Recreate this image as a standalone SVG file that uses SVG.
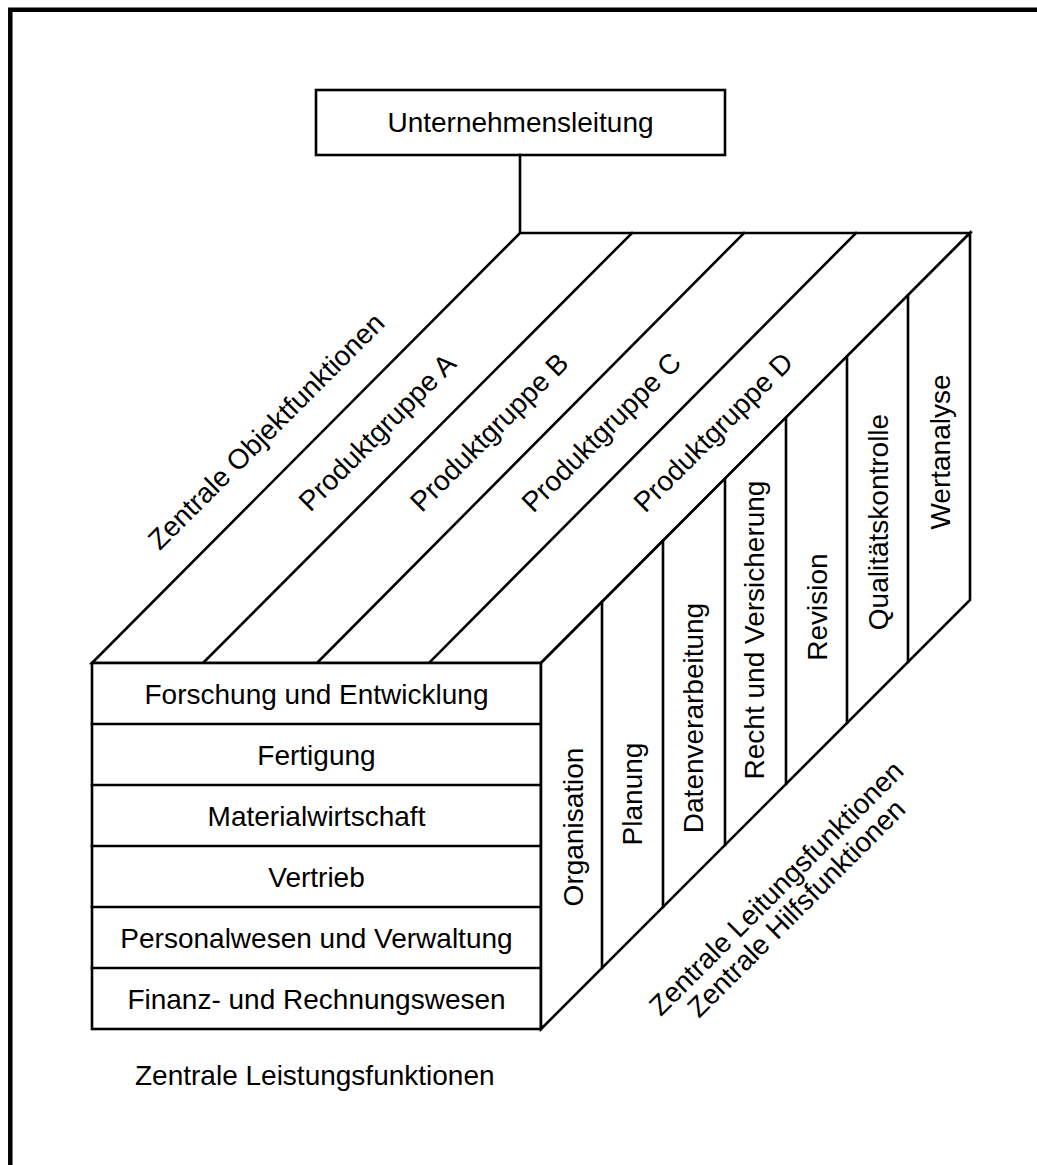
<svg xmlns="http://www.w3.org/2000/svg" width="1037" height="1165" viewBox="0 0 1037 1165">
  <style>
    .ln { fill: none; stroke: #000; stroke-width: 2.6; stroke-linejoin: miter; stroke-linecap: square; }
    .face { fill: #fff; stroke: #000; stroke-width: 2.6; stroke-linejoin: miter; }
    .lbl { font-family: "Liberation Sans", Arial, sans-serif; font-size: 28px; fill: #000; }
    .mid { text-anchor: middle; }
  </style>
  <rect width="1037" height="1165" fill="#fff"/>
  <!-- outer frame, open to the right and bottom -->
  <path d="M10.3 1165 V9.7 H1040" fill="none" stroke="#000" stroke-width="4.5"/>

  <!-- top node -->
  <g id="unternehmensleitung">
    <rect x="316" y="90" width="409" height="65" class="face" stroke-width="3"/>
    <text x="520.5" y="132" class="lbl mid">Unternehmensleitung</text>
  </g>

  <!-- connectors -->
  <g id="connectors">
    <path class="ln" d="M520 155 V233"/>
  </g>

  <!-- top face: central object functions / product groups -->
  <g id="objektfunktionen">
    <polygon class="face" points="92,663 520,233 970,233 541,663"/>
    <path class="ln" d="M632 233 L203 663 M744 233 L317 663 M856 233 L429 663"/>
    <text class="lbl mid" transform="translate(273,438) rotate(-45)">Zentrale Objektfunktionen</text>
    <text class="lbl mid" transform="translate(384,439) rotate(-45)">Produktgruppe A</text>
    <text class="lbl mid" transform="translate(496,439) rotate(-45)">Produktgruppe B</text>
    <text class="lbl mid" transform="translate(608,439) rotate(-45)">Produktgruppe C</text>
    <text class="lbl mid" transform="translate(720,439) rotate(-45)">Produktgruppe D</text>
  </g>

  <!-- front face: central performance functions -->
  <g id="leistungsfunktionen">
    <rect class="face" x="92" y="663" width="449" height="366"/>
    <path class="ln" d="M92 724 H541 M92 785 H541 M92 846 H541 M92 907 H541 M92 968 H541"/>
    <text class="lbl mid" x="316.5" y="704">Forschung und Entwicklung</text>
    <text class="lbl mid" x="316.5" y="765">Fertigung</text>
    <text class="lbl mid" x="316.5" y="826">Materialwirtschaft</text>
    <text class="lbl mid" x="316.5" y="887">Vertrieb</text>
    <text class="lbl mid" x="316.5" y="948">Personalwesen und Verwaltung</text>
    <text class="lbl mid" x="316.5" y="1009">Finanz- und Rechnungswesen</text>
    <text class="lbl" x="135" y="1085">Zentrale Leistungsfunktionen</text>
  </g>

  <!-- right face: central management and support functions -->
  <g id="leitungs-hilfsfunktionen">
    <polygon class="face" points="541,663 970,233 970,600 541,1029"/>
    <path class="ln" d="M602 602 V968 M663 541 V907 M725 479 V845 M786 418 V784 M847 357 V723 M908 296 V662"/>
    <text class="lbl mid" transform="translate(583,827) rotate(-90)">Organisation</text>
    <text class="lbl mid" transform="translate(642,794) rotate(-90)">Planung</text>
    <text class="lbl mid" transform="translate(703,718) rotate(-90)">Datenverarbeitung</text>
    <text class="lbl mid" transform="translate(764,630) rotate(-90)">Recht und Versicherung</text>
    <text class="lbl mid" transform="translate(827,607) rotate(-90)">Revision</text>
    <text class="lbl mid" transform="translate(888,522) rotate(-90)">Qualitätskontrolle</text>
    <text class="lbl mid" transform="translate(950,452) rotate(-90)">Wertanalyse</text>
    <text class="lbl mid" transform="translate(783,895) rotate(-45)">Zentrale Leitungsfunktionen</text>
    <text class="lbl mid" transform="translate(803,915) rotate(-45)">Zentrale Hilfsfunktionen</text>
  </g>
</svg>
